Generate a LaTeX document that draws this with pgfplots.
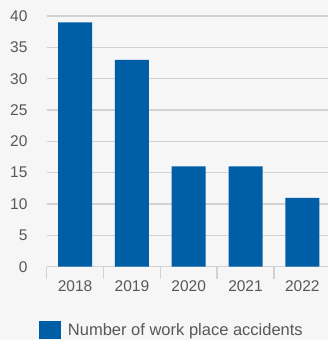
\documentclass[border=0pt]{standalone}
\usepackage{fontspec}
\setmainfont{Liberation Sans}
\usepackage{pgfplots}
\pgfplotsset{compat=1.18}
\definecolor{barblue}{RGB}{0,94,167}
\definecolor{bgc}{RGB}{246,246,246}
\definecolor{gridc}{RGB}{210,210,210}
\definecolor{txt}{RGB}{88,88,88}
\begin{document}
\begin{tikzpicture}[x=1bp,y=1bp]
\fill[bgc] (0,0) rectangle (328,340);
\useasboundingbox (0,0) rectangle (328,340);
\begin{axis}[
  at={(46.7bp,73.3bp)}, anchor=south west,
  scale only axis, width=284bp, height=250.7bp,
  xmin=-0.5, xmax=4.5, ymin=0, ymax=40,
  axis lines*=left,
  y axis line style={draw=none},
  x axis line style={-, gridc, line width=1.4bp},
  ytick={0,5,...,40},
  ymajorgrids, grid style={gridc, line width=1.4bp},
  ytick style={draw=none},
  xtick={-0.5,0.5,...,4.5},
  xticklabels={2018,2019,2020,2021,2022},
  xtick style={gridc, line width=1.4bp},
  tick align=outside, major tick length=12bp,
  /pgf/number format/assume math mode=true,
  tick label style={font=\fontsize{15.5bp}{18bp}\selectfont, text=txt},
  yticklabel style={xshift=-3.7bp},
  xticklabel style={xshift=28.4bp, yshift=1.5bp},
  ybar, bar width=34bp,
  legend style={at={(-0.0271,-0.2525)}, anchor=west, draw=none, fill=none,
    inner sep=0pt, outer sep=0pt, font=\fontsize{16.5bp}{19bp}\selectfont, text=txt,
    /tikz/every odd column/.append style={column sep=5bp}},
  legend image code/.code={\fill[barblue] (0bp,-9bp) rectangle (22bp,9bp);},
]
\addplot[fill=barblue, draw=none, bar shift=0pt] coordinates {(0,39) (1,33) (2,16) (3,16) (4,11)};
\addlegendentry{Number of work place accidents}
\end{axis}
\end{tikzpicture}
\end{document}
